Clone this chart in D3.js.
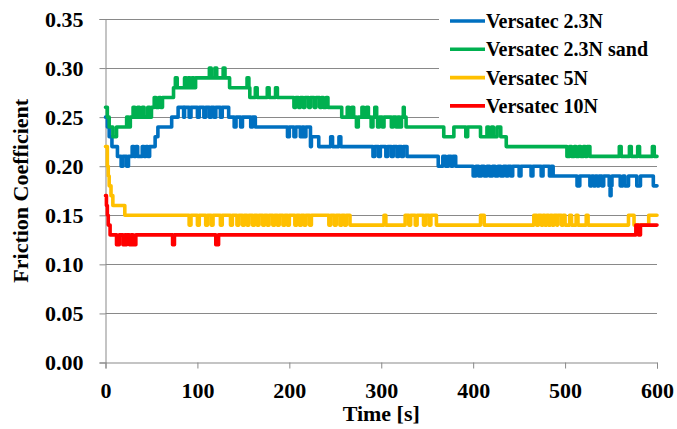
<!DOCTYPE html>
<html><head><meta charset="utf-8">
<script src="https://cdn.jsdelivr.net/npm/d3@7"></script>
<style>body{margin:0;background:#fff}svg{display:block}</style>
</head><body>
<svg id="c" width="677" height="429"></svg>
<script>
// ---------------- DATA ----------------
const seriesNames = ["Versatec 2.3N", "Versatec 2.3N sand", "Versatec 5N", "Versatec 10N"];
const seriesColors = ["#0070C0", "#00B050", "#FFC000", "#FF0000"];
const xTicks = [0, 100, 200, 300, 400, 500, 600];
const yTicks = [0, 0.05, 0.10, 0.15, 0.20, 0.25, 0.30, 0.35];
const xTitle = "Time [s]";
const yTitle = "Friction Coefficient";

// [time s, friction] — value holds until next time
const versatec23N = [
 [0,0.25],[2,0.24],[4,0.23],[7,0.22],[13,0.21],[17,0.20],[19,0.21],[23,0.20],[25,0.21],
 [29,0.22],[31,0.21],[33,0.22],[35,0.21],[40,0.22],[42,0.21],[44,0.22],[46,0.21],[48,0.22],[54,0.23],[57,0.24],[72,0.25],[79,0.26],
 [85,0.25],[86,0.26],[91,0.25],[93,0.26],[100,0.25],[102,0.26],[107,0.25],[109,0.26],[113,0.25],[115,0.26],[118,0.25],[120,0.26],[125,0.25],[127,0.26],[134,0.25],
 [140,0.24],[142,0.25],[147,0.24],[149,0.25],[158,0.24],[160,0.25],[163,0.24],
 [198,0.23],[200,0.24],[205,0.23],[207,0.24],[212,0.23],[214,0.24],[216,0.23],[218,0.24],[223,0.22],[224,0.23],[232,0.22],[245,0.23],[247,0.22],[254,0.23],[256,0.22],
 [291,0.21],[293,0.22],[297,0.21],[299,0.22],[305,0.21],[307,0.22],[311,0.21],[313,0.22],[317,0.21],[319,0.22],[322,0.21],[324,0.22],[328,0.21],
 [362,0.20],[367,0.21],[370,0.20],[373,0.21],[376,0.20],[378,0.21],[381,0.20],
 [400,0.19],[403,0.20],[406,0.19],[409,0.20],[412,0.19],[415,0.20],[418,0.19],[421,0.20],[424,0.19],[427,0.20],[430,0.19],[433,0.20],[436,0.19],[438,0.20],[441,0.19],[443,0.20],[450,0.19],[452,0.20],[463,0.19],[465,0.20],[474,0.19],[476,0.20],[483,0.19],[485,0.20],[487,0.19],
 [513,0.18],[516,0.19],[527,0.18],[529,0.19],[531,0.18],[533,0.19],[535,0.18],[537,0.19],[540,0.18],[542,0.19],[548,0.18],[549,0.17],[550,0.18],[551,0.19],[560,0.18],[563,0.19],[565,0.18],[569,0.19],[578,0.18],[582,0.19],[596,0.18],[600,0.18]
];
const versatec23NSand = [
 [0,0.26],[2,0.25],[4,0.24],[8,0.23],[12,0.24],[23,0.25],[25,0.24],[27,0.25],[30,0.26],[32,0.25],[35,0.26],[37,0.25],[40,0.26],[42,0.25],[46,0.26],[48,0.25],[50,0.26],[53,0.27],[55,0.26],[58,0.27],[60,0.26],[62,0.27],
 [74,0.28],[76,0.29],[78,0.28],[86,0.29],[88,0.28],[90,0.29],[92,0.28],[94,0.29],[96,0.28],[98,0.29],
 [113,0.30],[115,0.29],[119,0.30],[121,0.29],[128,0.30],[130,0.29],[135,0.28],[154,0.29],[156,0.28],[157,0.27],[163,0.28],[165,0.27],[176,0.28],[178,0.27],[185,0.28],[187,0.27],
 [205,0.26],[207,0.27],[210,0.26],[212,0.27],[215,0.26],[217,0.27],[221,0.26],[223,0.27],[227,0.26],[229,0.27],[233,0.26],[235,0.27],[237,0.26],[240,0.27],[242,0.26],
 [257,0.25],[263,0.26],[265,0.25],[268,0.26],[270,0.25],[273,0.24],[275,0.25],[279,0.26],[281,0.25],[284,0.26],[286,0.25],[289,0.24],[291,0.25],[293,0.26],[295,0.25],
 [296,0.24],[298,0.25],[301,0.24],[303,0.25],[311,0.24],[313,0.25],[316,0.24],[318,0.25],[320,0.24],[322,0.25],[324,0.26],[325,0.25],[327,0.24],
 [368,0.23],[379,0.24],[392,0.23],[394,0.24],[408,0.23],[415,0.24],[417,0.23],[420,0.24],[422,0.23],[426,0.24],[430,0.23],[436,0.22],
 [502,0.21],[505,0.22],[507,0.21],[510,0.22],[512,0.21],[515,0.22],[517,0.21],[520,0.22],[522,0.21],[524,0.22],[527,0.21],[559,0.22],[561,0.21],[570,0.22],[572,0.21],[579,0.22],[581,0.21],[595,0.22],[597,0.21],[600,0.21]
];
const versatec5N = [
 [0,0.22],[2,0.20],[3,0.19],[4,0.18],[6,0.17],[8,0.16],[21,0.15],
 [91,0.14],[93,0.15],[100,0.14],[102,0.15],[109,0.14],[111,0.15],[115,0.14],[117,0.15],[125,0.14],[127,0.15],[136,0.14],[138,0.15],[143,0.14],[145,0.15],[149,0.14],[151,0.15],[154,0.14],[156,0.15],[160,0.14],[162,0.15],[165,0.14],[167,0.15],[171,0.14],[173,0.15],[176,0.14],[178,0.15],[182,0.14],[184,0.15],[187,0.14],[189,0.15],[193,0.14],[195,0.15],[198,0.14],[200,0.15],
 [206,0.14],[208,0.15],[211,0.14],[213,0.15],[216,0.14],[218,0.15],[222,0.14],[224,0.15],[243,0.14],[245,0.15],[249,0.14],[251,0.15],[255,0.14],[257,0.15],[260,0.14],[262,0.15],[266,0.14],
 [303,0.15],[305,0.14],[326,0.15],[330,0.14],[332,0.15],[337,0.14],[339,0.15],[346,0.14],[348,0.15],[352,0.14],[354,0.15],[360,0.14],[408,0.15],[412,0.14],
 [466,0.15],[469,0.14],[471,0.15],[474,0.14],[476,0.15],[478,0.14],[480,0.15],[482,0.14],[484,0.15],[486,0.14],[488,0.15],[491,0.14],[492,0.15],[496,0.14],[498,0.15],[500,0.14],[505,0.15],[507,0.14],[512,0.15],[514,0.14],[523,0.15],[525,0.14],[569,0.15],[575,0.14],[591,0.15],[600,0.15]
];
const versatec10N = [
 [0,0.17],[1,0.16],[2,0.15],[3,0.14],[5,0.13],[12,0.12],[15,0.13],[19,0.12],[21,0.13],[22,0.12],[23,0.13],[26,0.12],[28,0.13],[30,0.12],[33,0.13],
 [73,0.12],[75,0.13],[120,0.12],[123,0.13],[577,0.14],[580,0.13],[582,0.14],[600,0.14]
];
const seriesData = [versatec23N, versatec23NSand, versatec5N, versatec10N];

// ---------------- DRAW ----------------
const svg = d3.select("#c");
const font = "'Liberation Serif','Times New Roman',serif";
const x = d3.scaleLinear().domain([0, 600]).range([105.5, 657]);
const y = d3.scaleLinear().domain([0, 0.35]).range([362.5, 19]);
const gridColor = "#898989";

// gridlines
svg.append("g").selectAll("line").data(yTicks.filter(d => d > 0)).join("line")
  .attr("x1", x(0)).attr("x2", x(600))
  .attr("y1", d => Math.round(y(d)) + 0.5).attr("y2", d => Math.round(y(d)) + 0.5)
  .attr("stroke", gridColor).attr("stroke-width", 1);

// y axis
const yAxis = svg.append("g").attr("transform", `translate(${x(0)},0)`)
  .call(d3.axisLeft(y).tickValues(yTicks).tickSize(6).tickPadding(16).tickFormat(d3.format(".2f")));
yAxis.select(".domain").attr("stroke", gridColor);
yAxis.selectAll(".tick line").attr("stroke", gridColor);
yAxis.selectAll("text").attr("font-family", font).attr("font-weight", "bold").attr("font-size", 22).attr("fill", "#000");

// x axis
const xAxis = svg.append("g").attr("transform", `translate(0,${y(0)})`)
  .call(d3.axisBottom(x).tickValues(xTicks).tickSize(6).tickPadding(14).tickFormat(d3.format("d")));
xAxis.select(".domain").attr("stroke", gridColor);
xAxis.selectAll(".tick line").attr("stroke", gridColor);
xAxis.selectAll("text").attr("font-family", font).attr("font-weight", "bold").attr("font-size", 22).attr("fill", "#000");

// lines
const line = d3.line().x(d => x(d[0])).y(d => y(d[1])).curve(d3.curveStepAfter);
svg.append("g").selectAll("path").data(seriesData).join("path")
  .attr("d", line).attr("fill", "none")
  .attr("stroke", (d, i) => seriesColors[i]).attr("stroke-width", 3.6)
  .attr("stroke-linejoin", "round").attr("stroke-linecap", "round");

// axis titles
svg.append("text").attr("x", (x(0) + x(600)) / 2).attr("y", 421).attr("text-anchor", "middle")
  .attr("font-family", font).attr("font-weight", "bold").attr("font-size", 22).text(xTitle);
svg.append("text").attr("transform", `translate(28,${(y(0) + y(0.35)) / 2}) rotate(-90)`).attr("text-anchor", "middle")
  .attr("font-family", font).attr("font-weight", "bold").attr("font-size", 22).text(yTitle);

// legend
const lg = svg.append("g");
lg.append("rect").attr("x", 439).attr("y", 2).attr("width", 236).attr("height", 120).attr("fill", "#fff");
const rows = lg.selectAll("g.row").data(seriesNames).join("g").attr("class", "row")
  .attr("transform", (d, i) => `translate(0,${21 + i * 28.3})`);
rows.append("line").attr("x1", 450).attr("x2", 485).attr("stroke", (d, i) => seriesColors[i]).attr("stroke-width", 3.6);
rows.append("text").attr("x", 486).attr("y", 7).attr("font-family", font).attr("font-weight", "bold")
  .attr("font-size", 20).text(d => d);
</script>
</body></html>
